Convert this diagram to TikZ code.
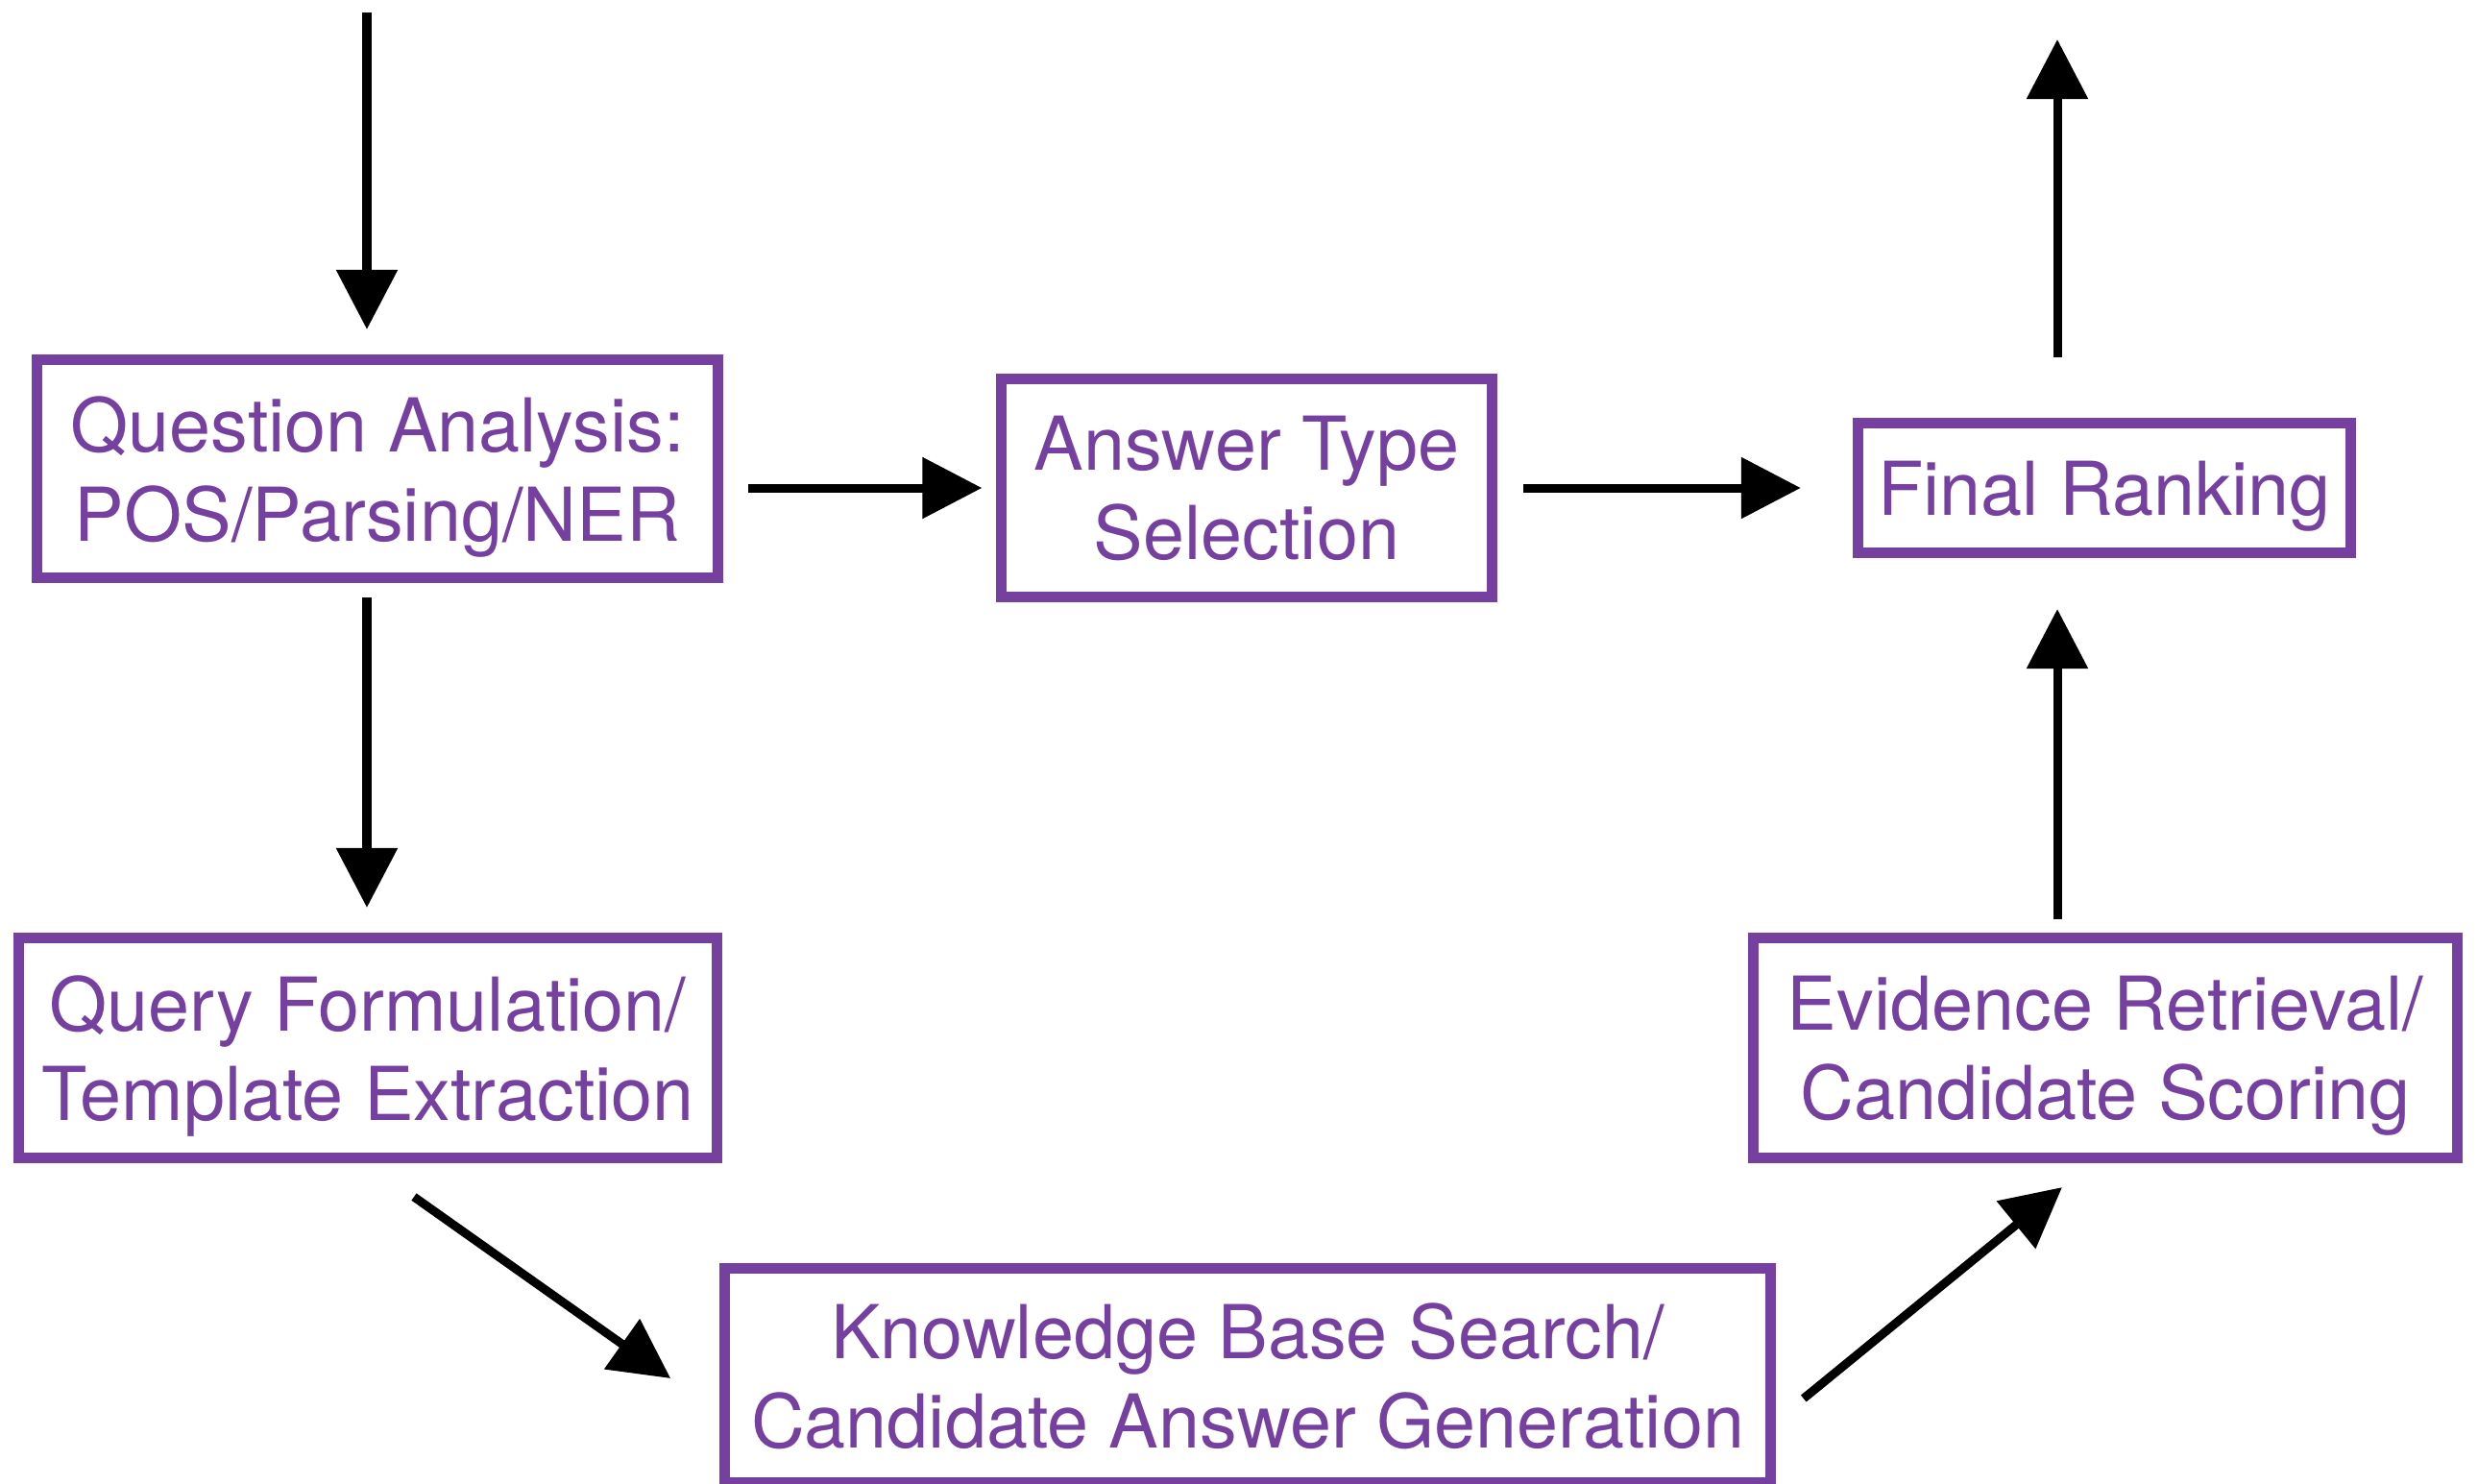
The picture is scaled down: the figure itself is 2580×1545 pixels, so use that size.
\documentclass[tikz,border=0pt]{standalone}
\usepackage{fontspec}
\setmainfont{TeX Gyre Heros}
\usetikzlibrary{arrows.meta,calc}
\definecolor{boxpurple}{RGB}{117,64,160}
\tikzset{
  stagebox/.style={draw=boxpurple, line width=0.11cm, text=boxpurple, align=center,
    inner sep=0pt, text depth=0pt, font=\fontsize{22}{26.5}\selectfont},
  flow/.style={draw=black, line width=0.09cm, -{Triangle[length=0.62cm,width=0.62cm]}}
}
\begin{document}
\begin{tikzpicture}[x=0.01cm,y=-0.01cm]
\useasboundingbox (0,0) rectangle (2580,1545);
\node[stagebox, minimum width=7.08cm, minimum height=2.27cm] (qa) at (393,488) {Question Analysis:\\POS/Parsing/NER};
\node[stagebox, minimum width=5.10cm, minimum height=2.27cm] (at) at (1298,508) {Answer Type\\Selection};
\node[stagebox, minimum width=5.13cm, minimum height=1.35cm] (fr) at (2191,508) {Final Ranking};
\node[stagebox, minimum width=7.27cm, minimum height=2.29cm] (qf) at (383,1091) {Query Formulation/\\Template Extraction};
\node[stagebox, minimum width=7.33cm, minimum height=2.29cm] (ev) at (2192,1091) {Evidence Retrieval/\\Candidate Scoring};
\node[stagebox, minimum width=10.88cm, minimum height=2.23cm] (kb) at (1299,1432) {Knowledge Base Search/\\Candidate Answer Generation};
% free ends
\coordinate (input) at (382,13);
\coordinate (output) at (2142,41);
% connectors
\draw[flow] (input) -- ($(qa.north)+(-11,-26)$);
\draw[flow] ($(qa.east |- at.west)+(26,0)$) -- ($(at.west)+(-15,0)$);
\draw[flow] ($(at.east)+(27,0)$) -- ($(fr.west)+(-54,0)$);
\draw[flow] ($(fr.north)+(-49,-63)$) -- (output);
\draw[flow] ($(qa.south)+(-11,15)$) -- ($(qf.north)+(-1,-26)$);
\draw[flow] ($(qf.south)+(48,35)$) -- ($(kb.west)+(-51,3)$);
\draw[flow] ($(kb.east)+(29,24)$) -- ($(ev.south)+(-45,25)$);
\draw[flow] ($(ev.north)+(-50,-14)$) -- ($(fr.south)+(-49,53)$);
\end{tikzpicture}
\end{document}
